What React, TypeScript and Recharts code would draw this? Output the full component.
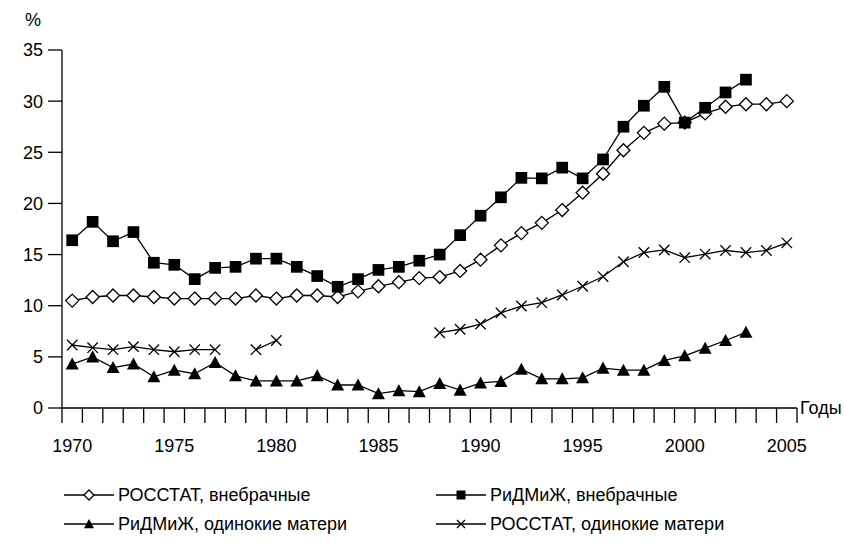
import React from "react"
import { Legend, Line, LineChart, XAxis, YAxis } from "recharts"

const years = [
  1970, 1971, 1972, 1973, 1974, 1975, 1976, 1977, 1978, 1979,
  1980, 1981, 1982, 1983, 1984, 1985, 1986, 1987, 1988, 1989,
  1990, 1991, 1992, 1993, 1994, 1995, 1996, 1997, 1998, 1999,
  2000, 2001, 2002, 2003, 2004, 2005,
]

// РОССТАТ, внебрачные
const rosstatOut = [
  10.5, 10.85, 11.0, 11.0, 10.85, 10.7, 10.7, 10.7, 10.7, 11.0,
  10.7, 11.0, 11.0, 10.85, 11.4, 11.9, 12.3, 12.7, 12.8, 13.4,
  14.5, 15.9, 17.1, 18.1, 19.35, 21.05, 22.9, 25.2, 26.9, 27.8,
  27.9, 28.8, 29.45, 29.7, 29.7, 30.0,
]

// РиДМиЖ, внебрачные
const ridmizhOut = [
  16.4, 18.2, 16.3, 17.2, 14.2, 14.0, 12.6, 13.7, 13.8, 14.6,
  14.6, 13.8, 12.9, 11.85, 12.6, 13.5, 13.8, 14.4, 15.0, 16.9,
  18.8, 20.6, 22.5, 22.45, 23.5, 22.45, 24.3, 27.5, 29.55, 31.4,
  27.9, 29.35, 30.85, 32.1, null, null,
]

// РиДМиЖ, одинокие матери
const ridmizhSingle = [
  4.3, 5.0, 3.95, 4.3, 3.05, 3.7, 3.35, 4.45, 3.15, 2.65,
  2.65, 2.65, 3.15, 2.25, 2.25, 1.4, 1.7, 1.6, 2.4, 1.75,
  2.45, 2.6, 3.8, 2.85, 2.85, 2.95, 3.9, 3.7, 3.7, 4.65,
  5.1, 5.85, 6.6, 7.4, null, null,
]

// РОССТАТ, одинокие матери
const rosstatSingle = [
  6.16, 5.9, 5.7, 6.0, 5.7, 5.5, 5.7, 5.7, null, 5.7,
  6.6, null, null, null, null, null, null, null, 7.36, 7.7,
  8.2, 9.3, 9.97, 10.3, 11.05, 11.9, 12.85, 14.3, 15.2, 15.45,
  14.7, 15.05, 15.4, 15.2, 15.4, 16.15,
]

const yTicks = [0, 5, 10, 15, 20, 25, 30, 35]
const labelYears = [1970, 1975, 1980, 1985, 1990, 1995, 2000, 2005]
const boundaries = [...years.map((y) => y - 0.5), 2005.5]

const data = years.map((year, i) => ({
  year,
  rosstatOut: rosstatOut[i],
  ridmizhOut: ridmizhOut[i],
  ridmizhSingle: ridmizhSingle[i],
  rosstatSingle: rosstatSingle[i],
}))

const FONT = '"Liberation Sans", Arial, sans-serif'
const FS = 18

const diamond = (cx: number, cy: number, r: number) =>
  `M${cx},${cy - r}L${cx + r},${cy}L${cx},${cy + r}L${cx - r},${cy}Z`
const square = (cx: number, cy: number, r: number) =>
  `M${cx - r},${cy - r}H${cx + r}V${cy + r}H${cx - r}Z`
const triangle = (cx: number, cy: number, r: number) =>
  `M${cx},${cy - r}L${cx + r},${cy + r * 0.85}L${cx - r},${cy + r * 0.85}Z`
const cross = (cx: number, cy: number, r: number) =>
  `M${cx - r},${cy - r}L${cx + r},${cy + r}M${cx + r},${cy - r}L${cx - r},${cy + r}`

const Marker = ({ kind, cx, cy, r }: { kind: string; cx: number; cy: number; r: number }) => {
  if (kind === "diamond")
    return <path d={diamond(cx, cy, r)} fill="#fff" stroke="#000" strokeWidth={1.3} />
  if (kind === "square") return <path d={square(cx, cy, r * 0.9)} fill="#000" stroke="none" />
  if (kind === "triangle") return <path d={triangle(cx, cy, r)} fill="#000" stroke="none" />
  return <path d={cross(cx, cy, r * 0.8)} fill="none" stroke="#000" strokeWidth={1.3} />
}

const makeDot = (kind: string) => (props: any) => {
  const { cx, cy, index } = props
  if (cx == null || cy == null || props.value == null) return <g key={`${kind}-${index}`} />
  return (
    <g key={`${kind}-${index}`}>
      <Marker kind={kind} cx={cx} cy={cy} r={6.5} />
    </g>
  )
}

const YearTick = (props: any) => {
  const { x, y, payload } = props
  const v = payload.value as number
  if (v % 1 !== 0) {
    return <line x1={x} y1={y} x2={x} y2={y + 15} stroke="#000" strokeWidth={1.3} />
  }
  return (
    <text x={x} y={y + 44} textAnchor="middle" fontSize={FS} fontFamily={FONT} fill="#000">
      {v}
    </text>
  )
}

const legendItems = [
  { kind: "diamond", label: "РОССТАТ, внебрачные", left: 64, top: 0 },
  { kind: "square", label: "РиДМиЖ, внебрачные", left: 436, top: 0 },
  { kind: "triangle", label: "РиДМиЖ, одинокие матери", left: 64, top: 29 },
  { kind: "cross", label: "РОССТАТ, одинокие матери", left: 436, top: 29 },
]

const LegendContent = () => (
  <div style={{ position: "relative", width: 844, height: 60, fontFamily: FONT, fontSize: FS }}>
    {legendItems.map((it) => (
      <div
        key={it.label}
        style={{ position: "absolute", left: it.left, top: it.top, height: 22, display: "flex", alignItems: "center" }}
      >
        <svg width={52} height={22}>
          <line x1={0} y1={11} x2={50} y2={11} stroke="#000" strokeWidth={1.3} />
          <Marker kind={it.kind} cx={25} cy={11} r={5} />
        </svg>
        <span style={{ color: "#000", marginLeft: 2, whiteSpace: "nowrap" }}>{it.label}</span>
      </div>
    ))}
  </div>
)

export default function App() {
  return (
    <div style={{ position: "absolute", left: 0, top: 0, width: 844, height: 543, background: "#fff" }}>
      <LineChart width={844} height={543} data={data} margin={{ top: 50, right: 47, bottom: 0, left: 0 }}>
        <XAxis
          dataKey="year"
          type="number"
          domain={[1969.5, 2005.5]}
          ticks={[...boundaries, ...labelYears]}
          interval={0}
          height={135}
          tickSize={0}
          tickMargin={0}
          tickLine={false}
          tick={<YearTick />}
          axisLine={{ stroke: "#000", strokeWidth: 1.3 }}
          label={{
            content: (p: any) => (
              <text
                x={p.viewBox.x + p.viewBox.width + 3}
                y={p.viewBox.y}
                dy="0.35em"
                fontSize={FS}
                fontFamily={FONT}
                fill="#000"
              >
                Годы
              </text>
            ),
          }}
        />
        <YAxis
          type="number"
          domain={[0, 35]}
          ticks={yTicks}
          interval={0}
          width={62}
          tickSize={14}
          tickMargin={5}
          tick={{ fontSize: FS, fontFamily: FONT, fill: "#000" }}
          tickLine={{ stroke: "#000", strokeWidth: 1.3 }}
          axisLine={{ stroke: "#000", strokeWidth: 1.3 }}
          label={{
            content: () => (
              <text x={33} y={26} textAnchor="middle" fontSize={FS} fontFamily={FONT} fill="#000">
                %
              </text>
            ),
          }}
        />
        <Legend
          layout="vertical"
          verticalAlign="middle"
          align="center"
          content={() => <LegendContent />}
          wrapperStyle={{ left: 0, top: 484, width: 844 }}
        />
        <Line
          dataKey="rosstatOut"
          stroke="#000"
          strokeWidth={1.3}
          dot={makeDot("diamond")}
          activeDot={false}
          isAnimationActive={false}
          connectNulls={false}
        />
        <Line
          dataKey="ridmizhOut"
          stroke="#000"
          strokeWidth={1.3}
          dot={makeDot("square")}
          activeDot={false}
          isAnimationActive={false}
          connectNulls={false}
        />
        <Line
          dataKey="ridmizhSingle"
          stroke="#000"
          strokeWidth={1.3}
          dot={makeDot("triangle")}
          activeDot={false}
          isAnimationActive={false}
          connectNulls={false}
        />
        <Line
          dataKey="rosstatSingle"
          stroke="#000"
          strokeWidth={1.3}
          dot={makeDot("cross")}
          activeDot={false}
          isAnimationActive={false}
          connectNulls={false}
        />
      </LineChart>
    </div>
  )
}
